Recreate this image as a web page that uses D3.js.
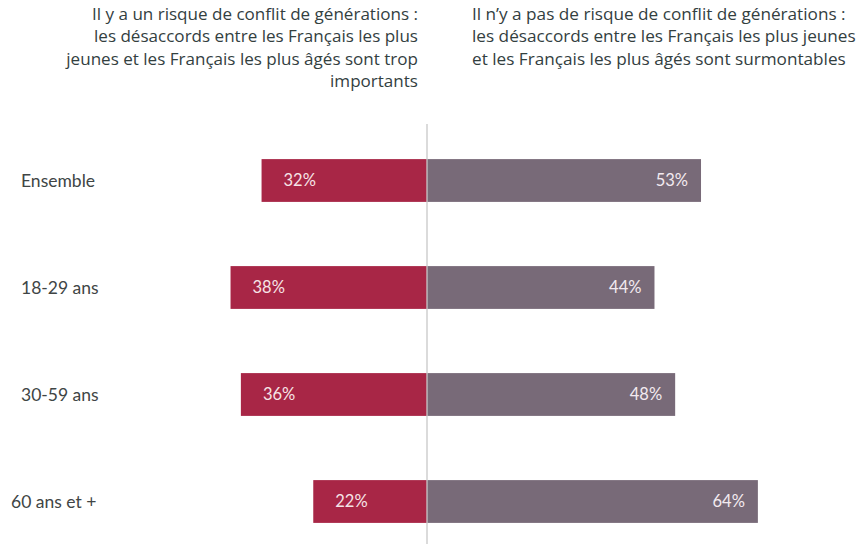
<!DOCTYPE html>
<html>
<head>
<meta charset="utf-8">
<script src="https://cdn.jsdelivr.net/npm/d3@7"></script>
<style>
  body { margin: 0; background: #fff; }
  svg { display: block; font-family: Lato, "Open Sans", sans-serif; }
</style>
</head>
<body>
<svg id="chart" width="861" height="544"></svg>
<script>
const categories = ["Ensemble", "18-29 ans", "30-59 ans", "60 ans et +"];
const risque = [32, 38, 36, 22];
const pasRisque = [53, 44, 48, 64];
const headerLeft = [
  "Il y a un risque de conflit de générations :",
  "les désaccords entre les Français les plus",
  "jeunes et les Français les plus âgés sont trop",
  "importants"
];
const headerRight = [
  "Il n’y a pas de risque de conflit de générations :",
  "les désaccords entre les Français les plus jeunes",
  "et les Français les plus âgés sont surmontables"
];

const svg = d3.select("#chart");
const center = 427;
const pxPerPct = 5.17;

const xRight = d3.scaleLinear().domain([0, 100]).range([center, center + 100 * pxPerPct]);
const xLeft = d3.scaleLinear().domain([0, 100]).range([center, center - 100 * pxPerPct]);
const y = d3.scaleBand().domain(categories).range([127, 555]).paddingInner(0.6).paddingOuter(0.3);

// column headers, sized so the longest line fills its column
const headerFont = "'Open Sans', sans-serif";
function header(lines, x, anchor, maxWidth) {
  const t = svg.append("g").selectAll("text").data(lines).join("text")
    .attr("x", x).attr("y", (d, i) => 19.5 + i * 22.6)
    .attr("text-anchor", anchor).attr("font-family", headerFont)
    .attr("font-size", 18).attr("fill", "#33403f")
    .text(d => d);
  const w = d3.max(t.nodes(), n => n.getComputedTextLength());
  t.attr("font-size", 18 * maxWidth / w);
}
header(headerLeft, 418, "end", 352);
header(headerRight, 472, "start", 384);

// bars
const rows = categories.map((c, i) => ({ c, a: risque[i], b: pasRisque[i] }));
const g = svg.append("g");
g.selectAll("rect.a").data(rows).join("rect").attr("class", "a")
  .attr("x", d => xLeft(d.a)).attr("width", d => center - xLeft(d.a))
  .attr("y", d => y(d.c)).attr("height", y.bandwidth())
  .attr("fill", "#a82646");
g.selectAll("rect.b").data(rows).join("rect").attr("class", "b")
  .attr("x", center).attr("width", d => xRight(d.b) - center)
  .attr("y", d => y(d.c)).attr("height", y.bandwidth())
  .attr("fill", "#786a78");

// centre line
svg.append("line").attr("x1", center).attr("x2", center).attr("y1", 124).attr("y2", 544)
  .attr("stroke", "#c8c8c8").attr("stroke-width", 1.3);

// value labels
g.selectAll("text.a").data(rows).join("text").attr("class", "a")
  .attr("x", d => xLeft(d.a) + 22).attr("y", d => y(d.c) + y.bandwidth() / 2)
  .attr("dy", "0.35em").attr("font-size", 16.5).attr("fill", "#f6e4e6")
  .text(d => d.a + "%");
g.selectAll("text.b").data(rows).join("text").attr("class", "b")
  .attr("x", d => xRight(d.b) - 13).attr("y", d => y(d.c) + y.bandwidth() / 2)
  .attr("dy", "0.35em").attr("text-anchor", "end").attr("font-size", 16.5).attr("fill", "#f3eaf0")
  .text(d => d.b + "%");

// category labels
g.selectAll("text.c").data(rows).join("text").attr("class", "c")
  .attr("x", d => d.c === "60 ans et +" ? 11 : 21).attr("y", d => y(d.c) + y.bandwidth() / 2)
  .attr("dy", "0.35em").attr("font-size", 17.5).attr("fill", "#404545")
  .text(d => d.c);
</script>
</body>
</html>
